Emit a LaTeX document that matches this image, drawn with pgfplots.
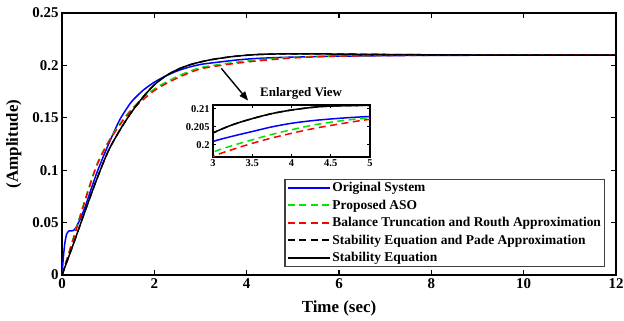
\documentclass[border=0pt]{standalone}
\usepackage{pgfplots}
\pgfplotsset{compat=1.18}
\usepackage{fontspec}
\setmainfont{Liberation Serif}
\usetikzlibrary{arrows.meta}

\pgfplotstableread{
t y
0 0
0.03 0.017
0.06 0.030
0.1 0.039
0.15 0.042
0.2 0.042
0.25 0.0425
0.3 0.045
0.4 0.054
0.5 0.065
0.75 0.097
1 0.124
1.25 0.148
1.5 0.165
1.75 0.176
2 0.184
2.25 0.190
2.5 0.1948
2.75 0.1983
3 0.2009
3.25 0.2024
3.5 0.2037
3.75 0.2050
4 0.2060
4.25 0.2067
4.5 0.2072
4.75 0.2076
5 0.2079
5.5 0.2084
6 0.2088
7 0.2093
8 0.2096
9 0.2097
10 0.2098
12 0.2098
}\orig

\pgfplotstableread{
t y
0 0
0.25 0.036
0.5 0.072
0.75 0.105
1 0.127
1.25 0.144
1.5 0.158
1.75 0.169
2 0.1775
2.25 0.184
2.5 0.1895
2.75 0.1942
3 0.1979
3.25 0.1998
3.5 0.2014
3.75 0.2029
4 0.2042
4.25 0.2054
4.5 0.2063
4.75 0.2070
5 0.2076
5.5 0.2085
6 0.2091
7 0.2096
8 0.2099
9 0.2100
10 0.2100
12 0.2100
}\aso

\pgfplotstableread{
t y
0 0
0.25 0.035
0.5 0.071
0.75 0.104
1 0.126
1.25 0.143
1.5 0.157
1.75 0.167
2 0.176
2.25 0.1825
2.5 0.188
2.75 0.1928
3 0.1967
3.25 0.1987
3.5 0.2004
3.75 0.2019
4 0.2032
4.25 0.2044
4.5 0.2054
4.75 0.2063
5 0.2071
5.5 0.2082
6 0.2089
7 0.2094
8 0.2097
9 0.2099
10 0.2099
12 0.2100
}\btra

\pgfplotstableread{
t y
0 0
0.25 0.030
0.5 0.061
0.75 0.091
1 0.118
1.25 0.138
1.5 0.155
1.75 0.1695
2 0.1815
2.25 0.1900
2.5 0.1960
2.75 0.2003
3 0.2033
3.25 0.2056
3.5 0.2073
3.75 0.2087
4 0.2097
4.25 0.2104
4.5 0.2108
5 0.2110
5.5 0.2110
6 0.2108
7 0.2104
8 0.2101
9 0.2099
10 0.2098
12 0.2098
}\sepa

\pgfplotstableread{
t y
0 0
0.25 0.030
0.5 0.061
0.75 0.091
1 0.118
1.25 0.138
1.5 0.155
1.75 0.1695
2 0.1815
2.25 0.1900
2.5 0.1960
2.75 0.2003
3 0.2033
3.25 0.2056
3.5 0.2073
3.75 0.2087
4 0.2097
4.25 0.2104
4.5 0.2108
5 0.2110
5.5 0.2110
6 0.2108
7 0.2104
8 0.2101
9 0.2099
10 0.2098
12 0.2098
}\se

\definecolor{cblue}{RGB}{0,0,255}
\definecolor{cgreen}{RGB}{0,230,0}
\definecolor{cred}{RGB}{255,0,0}
\tikzset{dsh/.style={dash pattern=on 7bp off 4.5bp}}

\begin{document}
\begin{tikzpicture}
\useasboundingbox (-62bp,-46bp) rectangle (562bp,275bp);
\begin{axis}[
  name=main,
  scale only axis,
  width=554bp, height=262bp,
  xmin=0, xmax=12, ymin=0, ymax=0.25,
  xtick={0,2,4,6,8,10,12},
  ytick={0,0.05,0.1,0.15,0.2,0.25},
  yticklabels={0,0.05,0.1,0.15,0.2,0.25},
  /pgf/number format/assume math mode=true,
  tick label style={font=\bfseries\fontsize{15}{17}\selectfont},
  axis line style={line width=1.4bp},
  major tick length=5bp,
  tick style={line width=1.2bp, black},
  xlabel={Time (sec)},
  ylabel={(Amplitude)},
  label style={font=\bfseries\fontsize{17}{19}\selectfont},
  xlabel style={at={(axis description cs:0.5,-0.128)}, anchor=center},
  ylabel style={at={(axis description cs:-0.087,0.5)}, anchor=center},
  legend style={at={(rel axis cs:0.98,0.03)}, anchor=south east,
    font=\bfseries\fontsize{13.5}{14}\selectfont, draw=black!75, line width=1.3bp,
    cells={anchor=west}, row sep=4.8bp, inner xsep=1.5bp, inner ysep=2bp,
    nodes={inner xsep=1.8bp, inner ysep=1bp}},
  legend image code/.code={\draw[#1, line width=2bp] (0bp,0bp) -- (42bp,0bp);},
]
\addplot[cblue, line width=1.5bp, smooth, tension=0.4] table[x=t,y=y] {\orig};
\addlegendentry{Original System}
\addplot[cgreen, line width=1.5bp, dsh, smooth] table[x=t,y=y] {\aso};
\addlegendentry{Proposed ASO}
\addplot[cred, line width=1.5bp, dsh, smooth] table[x=t,y=y] {\btra};
\addlegendentry{Balance Truncation and Routh Approximation}
\addplot[black, line width=1.5bp, dsh, smooth] table[x=t,y=y] {\sepa};
\addlegendentry{Stability Equation and Pade Approximation}
\addplot[black, line width=1.5bp, smooth] table[x=t,y=y] {\se};
\addlegendentry{Stability Equation}
\draw[-{Triangle[length=9bp,width=7bp]}, line width=1.4bp] (axis cs:3.45,0.1972) -- (axis cs:4.03,0.1665);
\node[font=\bfseries\fontsize{13}{14}\selectfont] at (axis cs:5.18,0.1737) {Enlarged View};
\end{axis}
\begin{axis}[
  at={(151bp,118bp)}, anchor=south west,
  scale only axis,
  width=157bp, height=52bp,
  xmin=3, xmax=5, ymin=0.1966, ymax=0.2111,
  xtick={3,3.5,4,4.5,5},
  xticklabels={3,3.5,4,4.5,5},
  ytick={0.2,0.205,0.21},
  yticklabels={0.2,0.205,0.21},
  tick label style={font=\bfseries\fontsize{10.5}{11}\selectfont},
  xticklabel style={yshift=1bp},
  axis line style={line width=1.3bp},
  major tick length=3bp,
  tick style={line width=1bp, black},
  axis background/.style={fill=white},
]
\addplot[cblue, line width=1.5bp, smooth] table[x=t,y=y] {\orig};
\addplot[cgreen, line width=1.5bp, dsh, smooth] table[x=t,y=y] {\aso};
\addplot[cred, line width=1.5bp, dsh, smooth] table[x=t,y=y] {\btra};
\addplot[black, line width=1.5bp, dsh, smooth] table[x=t,y=y] {\sepa};
\addplot[black, line width=1.5bp, smooth] table[x=t,y=y] {\se};
\end{axis}
\end{tikzpicture}
\end{document}
